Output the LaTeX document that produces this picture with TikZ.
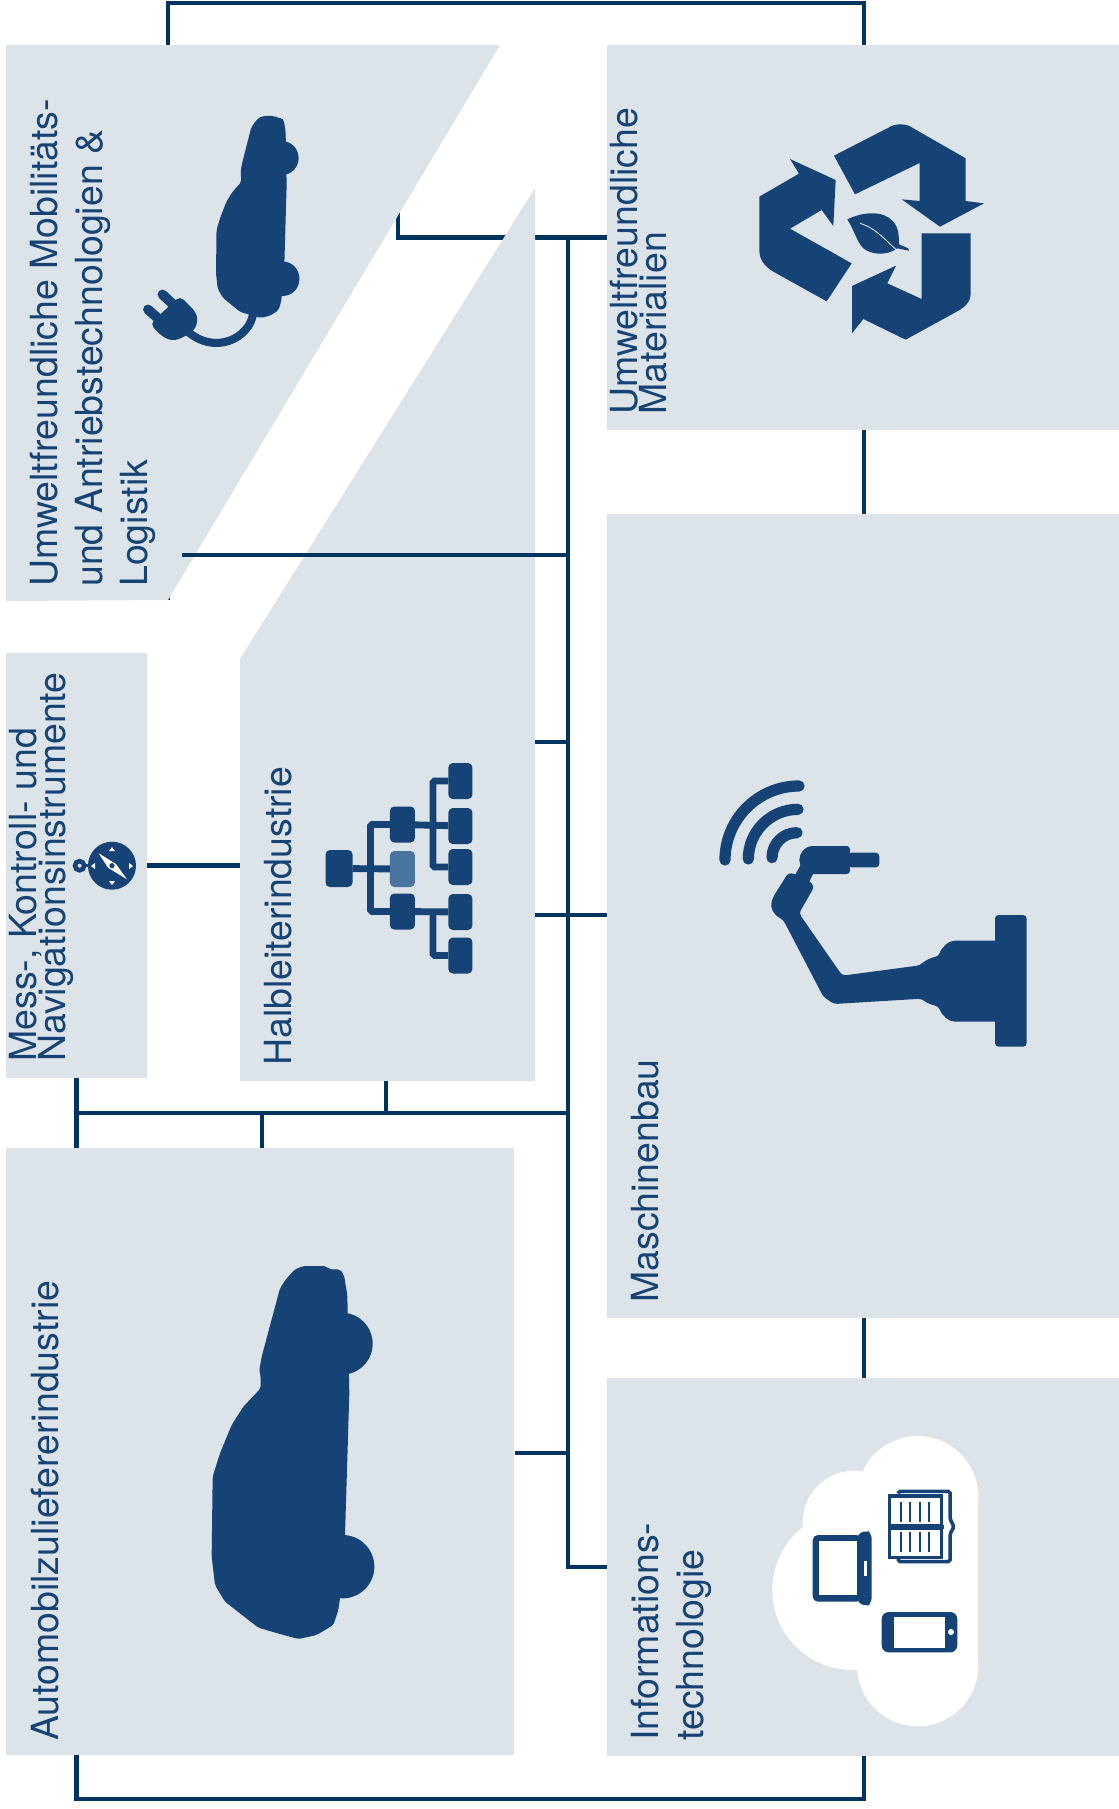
\documentclass[tikz,border=0pt]{standalone}
\usepackage{fontspec}
\setmainfont{TeX Gyre Heros}
\usepackage{tikz}
\usetikzlibrary{backgrounds}
\usepackage{xcolor}
\AtBeginDocument{\lineskiplimit=-20pt\relax}
\definecolor{panelgrey}{RGB}{220,227,233}
\definecolor{iconblue}{RGB}{21,67,118}
\definecolor{chiplight}{RGB}{74,116,160}
\definecolor{linkblue}{RGB}{0,52,96}
\tikzset{
    panelbox/.style={
        rectangle,
        fill=panelgrey,
        inner sep=0pt,
        outer sep=0pt
    },
    panellabel/.style={
        rotate=90,
        anchor=north west,
        align=left,
        inner sep=0pt,
        text=iconblue
    },
    linkline/.style={
        draw=linkblue,
        line width=2.3pt
    },
    chipbox/.style={
        rectangle,
        fill=iconblue,
        rounded corners=2.5pt,
        inner sep=0pt,
        outer sep=0pt,
        minimum width=0.5cm,
        minimum height=0.72cm
    },
    chipline/.style={
        draw=iconblue,
        line width=3.9pt
    },
    waveline/.style={
        draw=iconblue,
        line width=6.4pt,
        line cap=round
    }
}
\newcommand{\carshape}{
    \fill[iconblue, rounded corners=1.2pt] (340,48) -- (408,48) -- (418,58) -- (450,58) -- (462,75) -- (472,135) -- (478,430) -- (465,856) -- (450,1045) -- (445,1080) -- (430,1125) -- (380,1155) -- (325,1167) -- (270,1152) -- (205,1133) -- (105,1055) -- (75,1005) -- (65,920) -- (68,680) -- (90,610) -- (125,525) -- (160,470) -- (212,415) -- (212,380) -- (208,360) -- (215,320) -- (270,115) -- (290,85) -- (315,58) -- cycle;
    \fill[iconblue] (455,281) circle[radius=93];
    \fill[iconblue] (458,950) circle[radius=95];
}
\begin{document}
\begin{tikzpicture}[x=0.02cm,y=-0.02cm]
    \useasboundingbox (0,0) rectangle (1119,1809);

    % Panels
    \node[panelbox, minimum width=10.3cm, minimum height=7.7cm] (materialien) at (864,237.5) {};
    \node[panelbox, minimum width=10.3cm, minimum height=16.08cm] (maschinenbau) at (864,916) {};
    \node[panelbox, minimum width=10.3cm, minimum height=7.56cm] (informatik) at (864,1567) {};
    \node[panelbox, minimum width=10.16cm, minimum height=12.14cm] (automobil) at (259.7,1451.5) {};
    \node[panelbox, minimum width=2.82cm, minimum height=8.5cm] (messgeraete) at (76.5,865.5) {};
    \fill[panelgrey] (6,45) -- (500,45) -- (168,600) -- (6,601) -- cycle;
    \fill[panelgrey] (240,659) -- (535,188) -- (535,1081) -- (240,1081) -- cycle;

    % Ends of connectors
    \coordinate (hauptoben) at (568,237.5);
    \coordinate (mobilecke) at (168,600);
    \coordinate (mobilinnen) at (398,150);
    \coordinate (mobilrand) at (182,555);
    \coordinate (obenrechts) at (864,3);
    \coordinate (untenrechts) at (864,1799);
    \coordinate (halboben) at (535,742);
    \coordinate (halbrechts) at (535,915);
    \coordinate (halblinks) at (240,865.5);
    \coordinate (halbsued) at (386,1081);
    \coordinate (busmess) at (76.5,1113);
    \coordinate (busauto) at (262,1113);
    \coordinate (autorand) at (515,1453);

    % Connections behind the panels
    \begin{scope}[on background layer]
        \draw[linkline] (mobilecke) |- (obenrechts) -- (materialien.north);
        \draw[linkline] (mobilinnen) |- (materialien.west);
    \end{scope}

    % Connections
    \draw[linkline] (hauptoben) |- (informatik.west);
    \draw[linkline] (materialien.south) -- (maschinenbau.north);
    \draw[linkline] (maschinenbau.south) -- (informatik.north);
    \draw[linkline] (mobilrand) -- (hauptoben |- mobilrand);
    \draw[linkline] (halboben) -- (hauptoben |- halboben);
    \draw[linkline] (halbrechts) -- (maschinenbau.west |- halbrechts);
    \draw[linkline] (messgeraete.east) -- (halblinks);
    \draw[linkline] (messgeraete.south) -- (messgeraete.south |- automobil.north);
    \draw[linkline] (busmess) -- (hauptoben |- busmess);
    \draw[linkline] (busauto) -- (busauto |- automobil.north);
    \draw[linkline] (halbsued) -- (halbsued |- busmess);
    \draw[linkline] (autorand) -- (hauptoben |- autorand);
    \draw[linkline] (messgeraete.south |- automobil.south) |- (untenrechts) -- (informatik.south);

    % Labels
    \node[panellabel, font=\fontsize{21.3}{25.6}\selectfont] (mobiltext) at (30,587) {Umweltfreundliche Mobilitäts-\\und Antriebstechnologien \&\\Logistik};
    \node[panellabel, font=\fontsize{21.3}{16.6}\selectfont] (materialtext) at (609.5,415) {Umweltfreundliche\\Materialien};
    \node[panellabel, font=\fontsize{21.3}{16.6}\selectfont] (messtext) at (8.5,1062) {Mess-, Kontroll- und\\Navigationsinstrumente};
    \node[panellabel, font=\fontsize{21.3}{25}\selectfont] (halbtext) at (263.5,1066) {Halbleiterindustrie};
    \node[panellabel, font=\fontsize{21.3}{25}\selectfont] (maschinentext) at (631,1303) {Maschinenbau};
    \node[panellabel, font=\fontsize{21.3}{25}\selectfont] (autotext) at (30.5,1741) {Automobilzuliefererindustrie};
    \node[panellabel, font=\fontsize{21.3}{26}\selectfont] (infotext) at (630.5,1741) {Informations-\\technologie};

    % Large and small car
    \begin{scope}[shift={(190,1250)},scale=1/3]
        \carshape
    \end{scope}
    \begin{scope}[shift={(204.9,107.3)},xscale=0.171,yscale=0.1805]
        \carshape
    \end{scope}

    % Plug
    \draw[iconblue, line width=4.6pt] (253,314) .. controls (250,337) and (215,357) .. (186,330);
    \fill[iconblue, rounded corners=3pt] (150,324) -- (180,296) -- (196,312) -- (198,322) -- (193,332) -- (175,341) -- (164,338) -- cycle;
    \draw[iconblue, line width=5.6pt, line cap=round] (148,309.5) -- (161,321);
    \draw[iconblue, line width=5.6pt, line cap=round] (162.5,294.5) -- (177,308);

    % Recycling arrows with leaf
    \begin{scope}[shift={(600,0)},scale=1/3]
        \fill[iconblue] (702,467) -- (875,378) .. controls (890,371) and (920,371) .. (935,382) -- (1097,475) -- (1097,603) -- (1152,610) -- (1020,680) -- (905,598) -- (959,603) -- (959,489) -- (765,583) -- cycle;
        \fill[iconblue] (570,477) -- (707,540) -- (700,678) -- (665,630) -- (570,686) -- (755,790) -- (680,904) -- (520,815) .. controls (495,800) and (478,780) .. (478,750) -- (478,590) -- (597,521) -- cycle;
        \fill[iconblue] (965,700) -- (1112,700) -- (1112,880) .. controls (1112,905) and (1095,922) .. (1070,935) -- (917,1019) -- (790,957) -- (756,1000) -- (756,858) -- (888,797) -- (862,850) -- (965,897) -- cycle;
        \fill[iconblue] (742,658) .. controls (790,635) and (850,630) .. (880,665) .. controls (897,685) and (897,710) .. (897,733) -- (925,745) -- (927,752) -- (892,745) .. controls (860,768) and (815,765) .. (790,745) .. controls (770,725) and (765,695) .. (742,658) -- cycle;
        \draw[panelgrey, line width=0.5pt] (780,670) .. controls (830,685) and (860,725) .. (890,750);
    \end{scope}

    % Robot arm
    \begin{scope}[shift={(680,750)},scale=1/3]
        \fill[iconblue, rounded corners=2pt] (945,495) rectangle (1040,890);
        \fill[iconblue, rounded corners=2pt] (958,572) -- (835,572) .. controls (805,572) and (785,592) .. (775,620) .. controls (755,622) and (735,632) .. (720,646) -- (487,677) -- (357,490) -- (403,410) -- (388,392) -- (345,372) -- (325,368) -- (277,445) -- (272,470) -- (285,495) -- (310,510) -- (430,740) -- (462,762) -- (725,746) .. controls (740,758) and (755,765) .. (775,768) .. controls (785,795) and (805,815) .. (835,815) -- (958,815) -- cycle;
        \fill[iconblue] (345,375) -- (362,345) -- (400,370) -- (388,395) -- cycle;
        \fill[iconblue] (400,288) -- (500,288) .. controls (506,288) and (510,292) .. (510,298) -- (510,362) .. controls (510,368) and (506,372) .. (500,372) -- (400,372) .. controls (375,372) and (358,352) .. (358,330) .. controls (358,308) and (375,288) .. (400,288) -- cycle;
        \fill[iconblue, rounded corners=2pt] (505,308) rectangle (598,352);
        \draw[waveline] (135,330) arc[start angle=180, end angle=270, radius=222];
        \draw[waveline] (205,327) arc[start angle=180, end angle=270, radius=149];
        \draw[waveline] (276,323) arc[start angle=180, end angle=270, radius=75];
    \end{scope}

    % Chip hierarchy
    \node[chipbox, minimum width=0.54cm, minimum height=0.74cm] (chiproot) at (339,868.5) {};
    \node[chipbox] (chipa) at (402.4,824.5) {};
    \node[chipbox, fill=chiplight] (chipb) at (402.4,869) {};
    \node[chipbox] (chipc) at (402.4,911.5) {};
    \node[chipbox, minimum width=0.48cm] (chipaa) at (460.4,781) {};
    \node[chipbox, minimum width=0.48cm] (chipab) at (460.4,826) {};
    \node[chipbox, minimum width=0.48cm] (chipac) at (460.4,867) {};
    \node[chipbox, minimum width=0.48cm] (chipca) at (460.4,912) {};
    \node[chipbox, minimum width=0.48cm] (chipcb) at (460.4,955.5) {};
    \draw[chipline] (chiproot) -- (chipb);
    \draw[chipline, rounded corners=1pt] (chipa) -| (370.5,911.5) -- (chipc);
    \draw[chipline] (chipa) -- (chipab);
    \draw[chipline] (chipc) -- (chipca);
    \draw[chipline, rounded corners=1pt] (chipaa) -| (433,867) -- (chipac);
    \draw[chipline, rounded corners=1pt] (433,911.5) |- (chipcb);

    % Compass
    \fill[iconblue] (112,865.7) circle[radius=24];
    \draw[iconblue, line width=2.6pt] (79.6,865.7) circle[radius=4.6];
    \draw[iconblue, line width=2pt] (84,865.7) -- (90,865.7);
    \fill[white] (98.7,853.3) -- (116,864) -- (127,879.3) -- (108,867.7) -- cycle;
    \fill[iconblue] (112,865.7) circle[radius=2.6];
    \fill[white] (112,847) -- (109,851) -- (115,851) -- cycle;
    \fill[white] (112,885) -- (109,881) -- (115,881) -- cycle;
    \fill[white] (91,866) -- (95,863) -- (95,869) -- cycle;
    \fill[white] (133,866) -- (129,863) -- (129,869) -- cycle;

    % Cloud with devices
    \begin{scope}[shift={(740,1410)},scale=1/3]
        \fill[white] (533,260) circle[radius=182];
        \fill[white] (533,767) circle[radius=182];
        \fill[white] (351,260) rectangle (715,767);
        \fill[white] (343,337) circle[radius=155];
        \fill[white] (337,540) circle[radius=240];
        % Laptop
        \fill[iconblue, rounded corners=3pt] (218,375) rectangle (365,575);
        \fill[iconblue, rounded corners=3pt] (350,375) -- (378,360) -- (395,370) -- (395,580) -- (378,590) -- (350,575) -- cycle;
        \fill[white] (238,394) rectangle (352,556);
        \fill[white] (372,452) rectangle (382,498);
        % Phone
        \fill[iconblue, rounded corners=4pt] (425,606) rectangle (652,727);
        \fill[white] (462,621) rectangle (615,714);
        \fill[white] (633,666) circle[radius=9];
        % Book
        \draw[iconblue, line width=2pt, rounded corners=1pt] (475,250) -- (475,244) -- (630,244) -- (630,327) -- (642,350) -- (630,372) -- (630,455) -- (475,455) -- (475,445);
        \draw[iconblue, line width=2pt, fill=white] (449,258) rectangle (605,347);
        \draw[iconblue, line width=2pt, fill=white] (449,355) rectangle (605,443);
        \draw[iconblue, line width=2.2pt] (449,351) -- (612,351);
        \foreach \barx in {483,511,539,567} {
            \draw[iconblue, line width=1.1pt] (\barx,276) -- (\barx,335);
            \draw[iconblue, line width=1.1pt] (\barx,365) -- (\barx,425);
        }
    \end{scope}
\end{tikzpicture}
\end{document}
